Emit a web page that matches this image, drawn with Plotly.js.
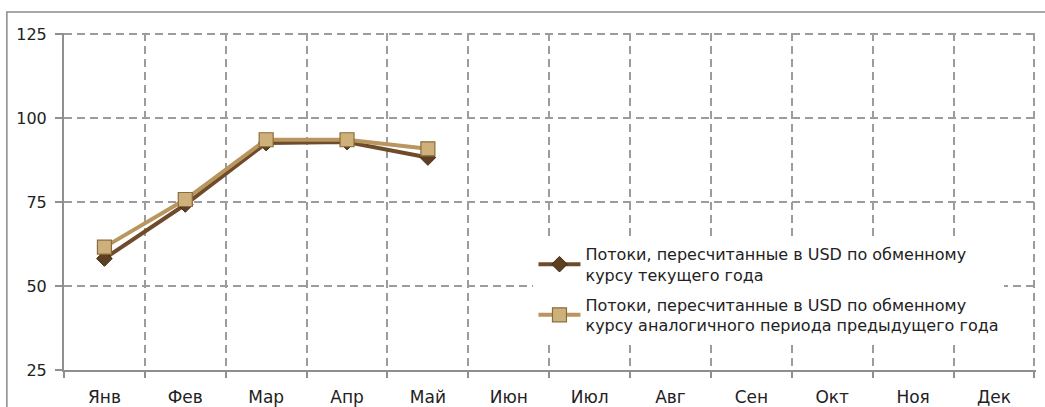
<!DOCTYPE html>
<html>
<head>
<meta charset="utf-8">
<script src="https://cdn.plot.ly/plotly-3.0.1.min.js"></script>
<style>html,body{margin:0;padding:0;background:#fff;}#chart{width:1045px;height:407px;}</style>
</head>
<body>
<div id="chart"></div>
<script>
const months = ["Янв","Фев","Мар","Апр","Май","Июн","Июл","Авг","Сен","Окт","Ноя","Дек"];
const currentRate = [58.2, 74.3, 92.6, 92.9, 88.3];
const prevYearRate = [61.6, 75.8, 93.6, 93.6, 90.9];
const seriesNames = [
  "Потоки, пересчитанные в USD по обменному<br>курсу текущего года",
  "Потоки, пересчитанные в USD по обменному<br>курсу аналогичного периода предыдущего года"
];
const yTicks = [25, 50, 75, 100, 125];

const traces = [
  {
    x: months.slice(0, currentRate.length), y: currentRate, name: seriesNames[0],
    type: "scatter", mode: "lines+markers", legendgroup: "a",
    line: {color: "#6e4b2a", width: 4},
    marker: {symbol: "diamond", size: 12, color: "#5e3f22", line: {color: "#3f2a15", width: 1}}
  },
  {
    x: months.slice(0, prevYearRate.length), y: prevYearRate, name: seriesNames[1],
    type: "scatter", mode: "lines+markers", legendgroup: "b",
    line: {color: "#b9965f", width: 4},
    marker: {symbol: "square", size: 14, color: "#cdb07a", line: {color: "#8c6c3c", width: 1.2}}
  }
];

const layout = {
  width: 1045, height: 407,
  margin: {l: 64, r: 9, t: 33, b: 37},
  paper_bgcolor: "#fff", plot_bgcolor: "#fff",
  font: {family: "DejaVu Sans, sans-serif", size: 16, color: "#222"},
  showlegend: true,
  legend: {
    x: 0.483, y: 0.395, xanchor: "left", yanchor: "top",
    bgcolor: "#fff", borderwidth: 0,
    font: {family: "DejaVu Sans, sans-serif", size: 16, color: "#222"},
    traceorder: "grouped", tracegroupgap: 6, itemwidth: 42
  },
  xaxis: {
    type: "category", categoryarray: months, categoryorder: "array",
    range: [-0.5, 11.52], tickson: "boundaries",
    showgrid: true, gridcolor: "#9c9c9c", griddash: "8px,5px", gridwidth: 2,
    showline: true, linecolor: "#8f8f8f", linewidth: 2,
    ticks: "outside", ticklen: 6, tickcolor: "#8f8f8f", tickwidth: 2,
    ticklabelstandoff: 11,
    tickfont: {family: "DejaVu Sans, sans-serif", size: 17, color: "#222"}, zeroline: false, fixedrange: true
  },
  yaxis: {
    range: [25, 125.4], tickvals: yTicks,
    showgrid: true, gridcolor: "#9c9c9c", griddash: "8px,5px", gridwidth: 2,
    showline: true, linecolor: "#8f8f8f", linewidth: 2,
    ticks: "outside", ticklen: 7, tickcolor: "#8f8f8f", tickwidth: 2,
    ticklabelstandoff: 5,
    tickfont: {family: "DejaVu Sans, sans-serif", size: 16, color: "#222"}, zeroline: false, fixedrange: true
  },
  shapes: [
    {type: "rect", xref: "paper", yref: "paper", x0: -0.0588, x1: 1.03, y0: -0.3, y1: 1.062,
     line: {color: "#8a8a8a", width: 1.5}, fillcolor: "rgba(0,0,0,0)", layer: "below"}
  ]
};

Plotly.newPlot("chart", traces, layout, {displayModeBar: false, staticPlot: true});
</script>
</body>
</html>
